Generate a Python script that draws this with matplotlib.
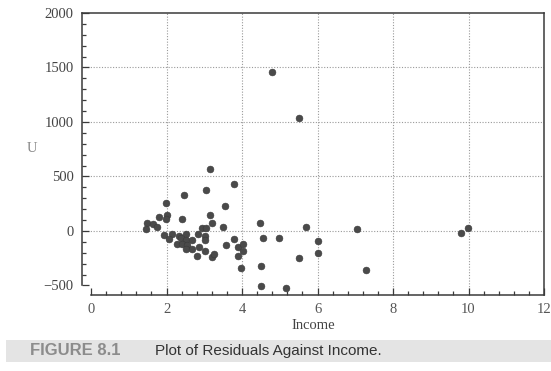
import matplotlib
matplotlib.use("Agg")
import matplotlib.pyplot as plt
from matplotlib.patches import Rectangle
from matplotlib.ticker import MultipleLocator

# Income (x) and residuals U (y)
income = [3.16, 3.78, 3.04, 2.46, 3.54, 1.99, 2.00, 1.99, 1.81, 3.15,
          2.42, 3.20, 1.49, 1.63, 1.75, 1.45, 2.93, 3.05, 3.49, 4.48,
          1.93, 2.15, 2.07, 2.32, 2.51, 2.38, 2.52, 2.68, 2.83, 3.01,
          3.01, 2.27, 2.40, 2.54, 2.52, 2.68, 2.87, 2.81, 3.01, 3.21,
          3.27, 3.58, 3.79, 3.89, 4.03, 4.02, 3.89, 3.97, 4.50, 4.50,
          4.56, 4.99, 5.69, 6.00, 6.00, 5.50, 5.17, 7.04, 7.28, 9.80,
          9.98, 4.79, 5.51]
resid = [568, 428, 376, 333, 232, 254, 147, 107, 126, 147,
         113, 71, 76, 61, 39, 21, 28, 28, 34, 71,
         -37, -25, -76, -46, -28, -67, -83, -83, -28, -46,
         -83, -122, -122, -125, -168, -165, -144, -226, -183, -235,
         -214, -128, -76, -150, -122, -183, -232, -342, -324, -504,
         -67, -67, 37, -92, -205, -250, -526, 15, -358, -15,
         24, 1455, 1036]

x_ticks = [0, 2, 4, 6, 8, 10, 12]
y_ticks = [-500, 0, 500, 1000, 1500, 2000]
y_tick_labels = ["\u2212500", "0", "500", "1000", "1500", "2000"]

serif = ["Liberation Serif", "DejaVu Serif"]
sans = ["Liberation Sans", "DejaVu Sans"]
ink = "#3a3a3a"

fig = plt.figure(figsize=(5.51, 3.71), dpi=100)
fig.patch.set_facecolor("white")
ax = fig.add_axes([0.1488, 0.2049, 0.8385, 0.7601])

ax.scatter(income, resid, s=24, color="#4a4a4a", edgecolors="#3a3a3a",
           linewidths=0.4, zorder=3)

ax.set_xlim(-0.24, 12.0)
ax.set_ylim(-587, 2000)

ax.set_xticks(x_ticks)
ax.set_xticklabels([str(t) for t in x_ticks], fontfamily=serif,
                   fontsize=10.5, color="#555555")
ax.set_yticks(y_ticks)
ax.set_yticklabels(y_tick_labels, fontfamily=serif, fontsize=10.5,
                   color="#444444")
ax.xaxis.set_minor_locator(MultipleLocator(0.4))
ax.yaxis.set_minor_locator(MultipleLocator(100))
ax.tick_params(which="both", direction="in", color=ink, width=0.9)
ax.tick_params(which="major", length=5, pad=6)
ax.tick_params(which="minor", length=3)

# Dotted grid at interior major ticks
for xv in [2, 4, 6, 8, 10]:
    ax.axvline(xv, color="#9a9a9a", linestyle=(0, (1, 1.5)), lw=0.8, zorder=1)
for yv in [0, 500, 1000, 1500]:
    ax.axhline(yv, color="#9a9a9a", linestyle=(0, (1, 1.5)), lw=0.8, zorder=1)

for side in ["left", "right", "top", "bottom"]:
    ax.spines[side].set_color(ink)
    ax.spines[side].set_linewidth(1.1)
ax.spines["left"].set_bounds(-500, 2000)
ax.spines["bottom"].set_bounds(0, 12)

ax.set_xlabel("Income", fontfamily=serif, fontsize=10.5, color="#444444",
              labelpad=2)
fig.text(0.058, 0.60, "U", fontfamily=serif, fontsize=10.5,
         color="#8a8a8a", ha="center", va="center")

# Caption band
fig.patches.append(Rectangle((0.01, 0.025), 0.99, 0.058,
                             transform=fig.transFigure,
                             facecolor="#e4e4e4", edgecolor="none",
                             zorder=0))
fig.text(0.055, 0.054, "FIGURE 8.1", fontfamily=sans, fontsize=12,
         fontweight="bold", color="#8c8c8c", va="center", ha="left")
fig.text(0.282, 0.054, "Plot of Residuals Against Income.", fontfamily=sans,
         fontsize=11, color="#333333", va="center", ha="left")

fig.savefig("out.png", dpi=100, facecolor="white")
